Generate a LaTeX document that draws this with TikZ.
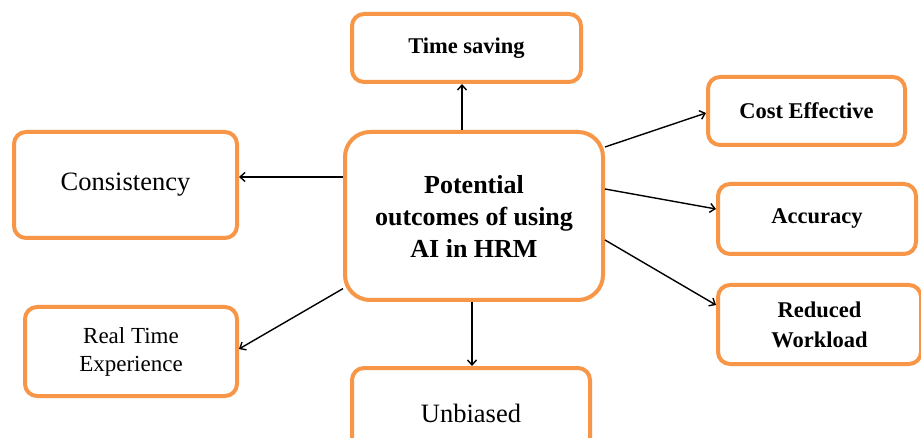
\documentclass[tikz,border=0pt]{standalone}
\usepackage{fontspec}
\setmainfont{Liberation Serif}
\usetikzlibrary{arrows.meta}
\definecolor{boxorange}{HTML}{F79646}
\tikzset{
  box/.style={draw=boxorange, line width=4pt, rounded corners=12pt, fill=white,
    align=center, inner sep=0pt, text=black},
  conn/.style={draw=black, line width=1.4pt, -{Straight Barb[length=5pt,width=9pt]}},
  boldtxt/.style={font=\bfseries\fontsize{22.5}{30}\selectfont},
  regtxt/.style={font=\fontsize{26.5}{28}\selectfont},
}
\begin{document}
\begin{tikzpicture}[x=1pt,y=-1pt]
\useasboundingbox (0,0) rectangle (921,438);
\clip (0,0) rectangle (921,438);
\fill[white] (0,0) rectangle (921,438);

\node[box, rounded corners=25pt, minimum width=258pt, minimum height=168pt,
  font=\bfseries\fontsize{26}{32}\selectfont] (ctr) at (474,216)
  {Potential\\outcomes of using\\AI in HRM};

\node[box, boldtxt, minimum width=229pt, minimum height=68pt] (ts) at (466.5,48) {Time saving};
\node[box, regtxt, minimum width=223pt, minimum height=106pt] (cons) at (125.5,185) {Consistency};
\node[box, font=\fontsize{23}{28}\selectfont, minimum width=212pt, minimum height=89pt] (rte) at (131,351.5) {Real Time\\Experience};
\node[box, regtxt, minimum width=238pt, minimum height=90pt] (unb) at (471,413) {Unbiased};
\node[box, boldtxt, minimum width=197pt, minimum height=68pt] (cost) at (806.5,111) {Cost Effective};
\node[box, boldtxt, minimum width=198pt, minimum height=70pt] (acc) at (817,219) {Accuracy};
\node[box, boldtxt, minimum width=203pt, minimum height=79pt] (red) at (819.5,324.5) {Reduced\\Workload};

\draw[conn] (ctr.north -| 462,0) -- (ts.south -| 462,0);
\draw[conn] (ctr.west |- 0,177) -- (cons.east |- 0,177);
\draw[conn] (ctr.209) -- (rte.east |- 0,349);
\draw[conn] (ctr.south -| 472,0) -- (unb.north -| 472,0);
\draw[conn] (ctr.east |- 0,147) -- (cost.west |- 0,113);
\draw[conn] (ctr.east |- 0,189) -- (acc.west |- 0,209);
\draw[conn] (ctr.east |- 0,240) -- (red.west |- 0,305);
\end{tikzpicture}
\end{document}
